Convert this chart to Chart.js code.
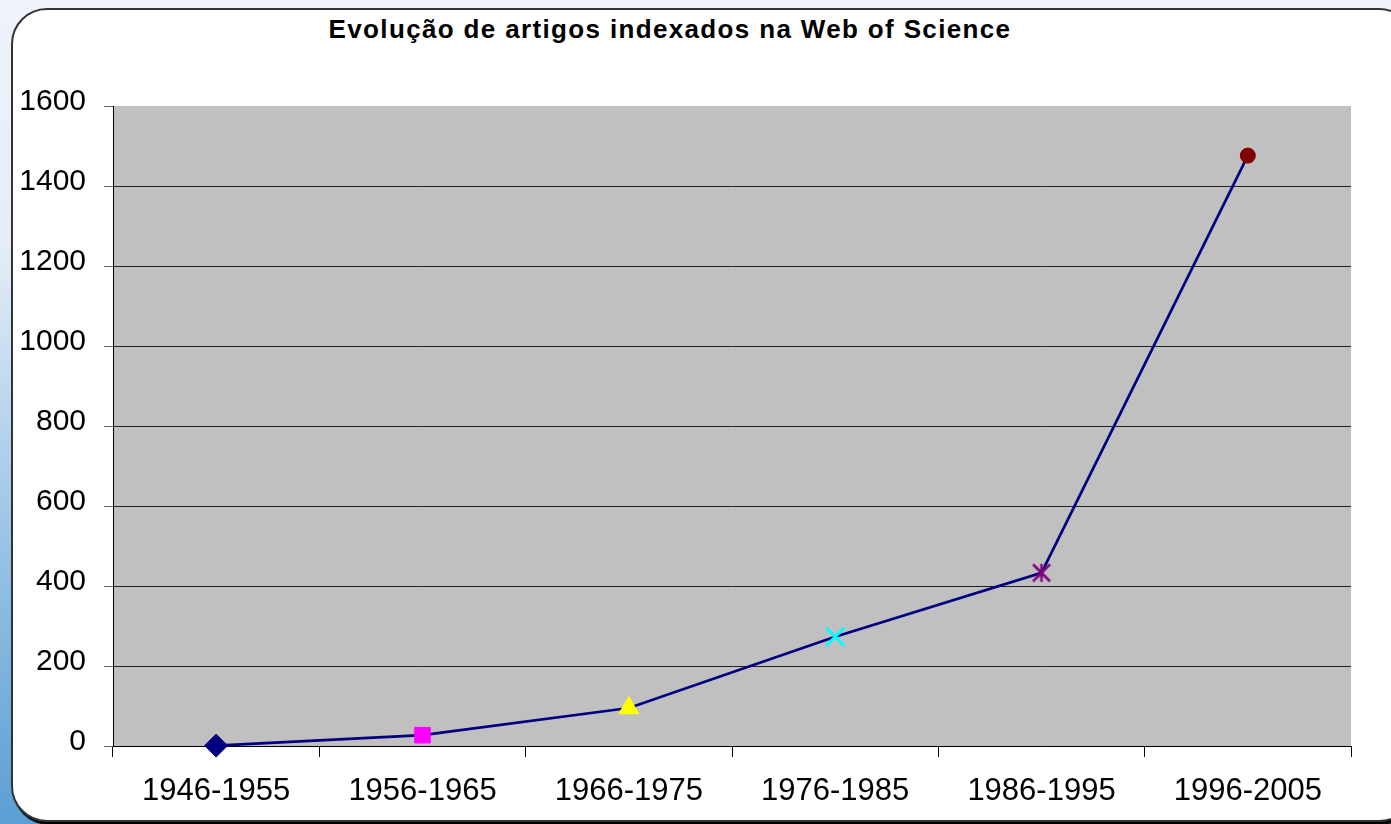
<!DOCTYPE html>
<html lang="pt">
<head>
<meta charset="utf-8">
<title>Evolução de artigos indexados na Web of Science</title>
<script src="https://cdn.jsdelivr.net/npm/chart.js@4.4.1/dist/chart.umd.min.js"></script>
<style>
  html, body {
    margin: 0;
    width: 1391px;
    height: 824px;
    overflow: hidden;
  }
  body {
    position: relative;
    background: linear-gradient(to bottom, #eef3fa 0%, #e4edf7 30%, #9cc4e6 65%, #5a9fd3 100%);
  }
  #cartao {
    position: absolute;
    left: 11px;
    top: 8px;
    width: 1400px;
    height: 810px;
    background: #ffffff;
    border: 2px solid #333333;
    border-radius: 36px;
    box-shadow: 2px 3px 1px #000000;
  }
  #titulo {
    position: absolute;
    left: 0;
    top: 16px;
    width: 1340px;
    text-align: center;
    font: bold 26px "Liberation Sans", Arial, sans-serif;
    line-height: 26px;
    letter-spacing: 1.35px;
    color: #000000;
  }
  #caixa {
    position: absolute;
    left: 0;
    top: 0;
    width: 1391px;
    height: 824px;
  }
</style>
</head>
<body>
<div id="cartao"></div>
<div id="titulo">Evolução de artigos indexados na Web of Science</div>
<div id="caixa"><canvas id="graficoArtigos"></canvas></div>
<script>
const periodos = ['1946-1955', '1956-1965', '1966-1975', '1976-1985', '1986-1995', '1996-2005'];
const artigos = [1, 27, 95, 273, 433, 1476];

// marcador "*" do Excel (vertical + X)
function geraAsterisco(cor){
    const c = document.createElement('canvas');
    c.width = 20;
    c.height = 20;
    const g = c.getContext('2d');
    g.strokeStyle = cor;
    g.lineWidth = 2.5;
    g.beginPath();
    g.moveTo(10, 1); g.lineTo(10, 19);
    g.moveTo(1.5, 1.5); g.lineTo(18.5, 18.5);
    g.moveTo(18.5, 1.5); g.lineTo(1.5, 18.5);
    g.stroke();
    return c;
}

const estilos = ['rectRot', 'rect', 'triangle', 'crossRot', geraAsterisco('#800080'), 'circle'];
const coresMarcador = ['#000080', '#ff00ff', '#ffff00', '#00ffff', '#800080', '#800000'];
const raios = [11.5, 11, 11.5, 12.7, 10, 7.5];

const fundoArea = {
    id: 'fundoArea',
    beforeDraw(grafico){
        const { ctx, chartArea } = grafico;
        ctx.save();
        ctx.fillStyle = '#c0c0c0';
        ctx.fillRect(chartArea.left, chartArea.top, chartArea.right - chartArea.left, chartArea.bottom - chartArea.top);
        ctx.restore();
    }
};

const graficoArtigos = document.getElementById('graficoArtigos');
const graficoParaArtigos = new Chart(graficoArtigos, {
    type: 'line',
    data: {
      labels: periodos,
      datasets: [{
        label: 'Artigos',
        data: artigos,
        borderColor: '#000080',
        borderWidth: 2.7,
        tension: 0,
        clip: false,
        pointStyle: estilos,
        pointRadius: raios,
        pointHoverRadius: raios,
        pointBackgroundColor: coresMarcador,
        pointBorderColor: coresMarcador,
        pointBorderWidth: [1, 1, 1, 3, 1, 1]
      }]
    },
    options: {
      responsive: true,
      maintainAspectRatio: false,
      animation: false,
      layout: { padding: { left: 0, right: 40, top: 106, bottom: 0 } },
      plugins: {
        legend: { display: false },
        tooltip: { enabled: false },
        title: { display: false }
      },
      scales: {
        x: {
          offset: true,
          afterFit(escala){ escala.height = 78; },
          grid: {
            offset: true,
            drawOnChartArea: false,
            drawTicks: true,
            tickLength: 11,
            color: '#000000'
          },
          border: { display: true, color: '#000000', width: 1 },
          ticks: {
            color: '#000000',
            padding: 16,
            maxRotation: 0,
            font: { family: '"Liberation Sans", Arial, sans-serif', size: 31 }
          }
        },
        y: {
          min: 0,
          max: 1600,
          afterFit(escala){ escala.width = 113; },
          grid: {
            color: (ctx) => (ctx.tick && ctx.tick.value === 1600) ? 'rgba(0,0,0,0)' : '#222222',
            tickColor: '#666666',
            drawTicks: true,
            tickLength: 9
          },
          border: { display: true, color: '#000000', width: 1 },
          ticks: {
            stepSize: 200,
            color: '#000000',
            padding: 18,
            labelOffset: -4,
            callback: (valor) => String(valor),
            font: { family: '"Liberation Sans", Arial, sans-serif', size: 30 }
          }
        }
      }
    },
    plugins: [fundoArea]
  });
</script>
</body>
</html>
